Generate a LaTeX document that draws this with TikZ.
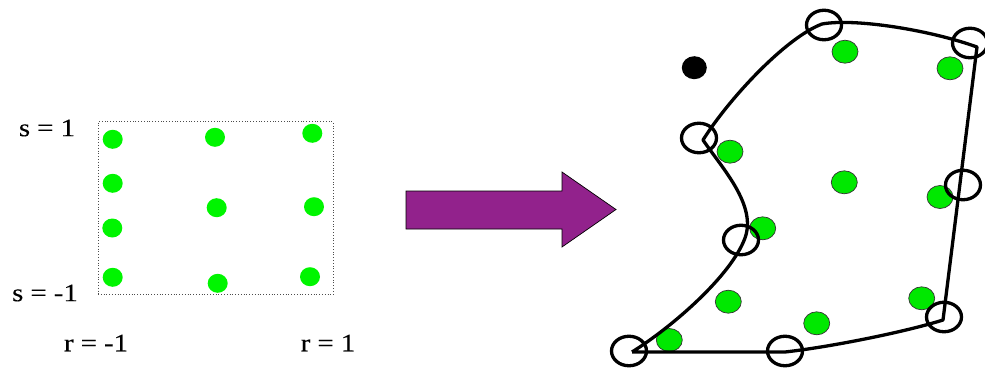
\documentclass[tikz,border=0pt]{standalone}
\usepackage{fontspec}
\usepackage{graphicx}
\setmainfont{Liberation Serif}
\newfontfamily\lblfont[FakeBold=0.25]{Liberation Serif}
\usetikzlibrary{shapes.geometric}
\definecolor{lgreen}{RGB}{0,245,0}
\definecolor{rgreen}{RGB}{0,232,0}
\definecolor{apurple}{RGB}{146,34,140}
\tikzset{
  lbl/.style={inner sep=0pt, font=\lblfont\fontsize{25}{28}\selectfont},
  ldot/.style={ellipse, fill=lgreen, draw=none, minimum width=20pt, minimum height=19pt, inner sep=0pt},
  rdot/.style={ellipse, fill=rgreen, draw=black!80, line width=0.7pt, minimum width=26pt, minimum height=23pt, inner sep=0pt},
  bdot/.style={ellipse, fill=black, minimum width=25pt, minimum height=23pt, inner sep=0pt},
  ring/.style={ellipse, draw=black, line width=3.3pt, minimum width=35pt, minimum height=29.5pt, inner sep=0pt},
  edge/.style={draw=black, line width=3.3pt, line join=round},
}
\begin{document}
\begin{tikzpicture}[x=1pt,y=-1pt]
\useasboundingbox (0,0) rectangle (985,370);
% ---- left panel ----
\node[draw=black!70, dotted, line width=0.8pt, minimum width=235pt, minimum height=173pt, inner sep=0pt] (box) at (215.5,208) {};
\node[lbl] (s1) at (47,128) {\scalebox{1.15}[1]{s = 1}};
\node[lbl] (sm1) at (45,293) {\scalebox{1.15}[1]{s = -1}};
\node[lbl] (rm1) at (96,343) {\scalebox{1.15}[1]{r = -1}};
\node[lbl] (r1) at (328,343) {\scalebox{1.15}[1]{r = 1}};
\node[ldot] (l1) at (112.7,139.3) {};
\node[ldot] (l2) at (215,137.3) {};
\node[ldot] (l3) at (312.3,133.3) {};
\node[ldot] (l4) at (112.7,183.3) {};
\node[ldot] (l5) at (112.3,228) {};
\node[ldot] (l6) at (216.7,207.7) {};
\node[ldot] (l7) at (314,206.7) {};
\node[ldot] (l8) at (112.7,277.3) {};
\node[ldot] (l9) at (217.7,283.3) {};
\node[ldot] (l10) at (310,276.7) {};
% ---- arrow ----
\draw[fill=apurple, draw=black, line width=0.7pt, line join=miter]
  (406,191) -- (562,191) -- (562,172) -- (616,209.5) -- (562,247) -- (562,229) -- (406,229) -- cycle;
% ---- right panel ----
\node[bdot] (blk) at (694.3,67.7) {};
\node[rdot] (g1) at (845,51.7) {};
\node[rdot] (g2) at (950,68.3) {};
\node[rdot] (g3) at (730,151.7) {};
\node[rdot] (g4) at (844.3,182.3) {};
\node[rdot] (g5) at (940,197) {};
\node[rdot] (g6) at (762.7,228.3) {};
\node[rdot] (g7) at (728.3,301.7) {};
\node[rdot] (g8) at (816.7,323.3) {};
\node[rdot] (g9) at (921.7,298.3) {};
\node[rdot] (g10) at (669.3,340) {};
\coordinate (BL) at (632,352);
\coordinate (LM) at (745,238);
\coordinate (TL) at (703,140);
\coordinate (TT) at (822,24);
\coordinate (TR) at (977,47);
\coordinate (BR) at (943,320);
\coordinate (BM) at (785,352);
\draw[edge] (BL) .. controls (672,327) and (731,276) .. (LM)
  .. controls (757,205) and (722,168) .. (TL)
  .. controls (728,100) and (785,38) .. (TT)
  .. controls (855,18) and (930,30) .. (TR)
  -- (BR)
  .. controls (905,332) and (830,347) .. (BM)
  -- (BL);
\node[ring] (c1) at (824,25) {};
\node[ring] (c2) at (970,43) {};
\node[ring] (c3) at (699,138) {};
\node[ring] (c4) at (963,185) {};
\node[ring] (c5) at (741,240) {};
\node[ring] (c6) at (629,351) {};
\node[ring] (c7) at (785,351) {};
\node[ring] (c8) at (944,317) {};
\end{tikzpicture}
\end{document}
